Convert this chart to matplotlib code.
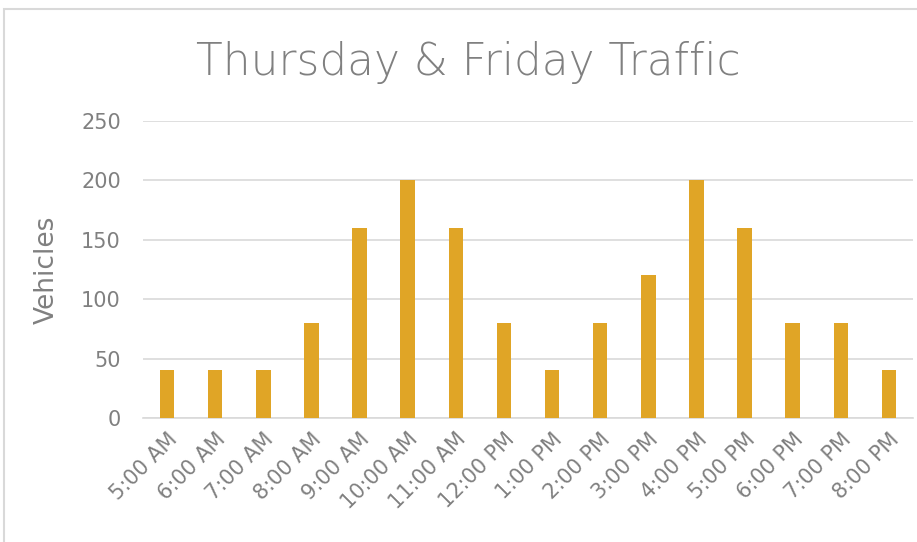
import matplotlib
matplotlib.use("Agg")
import matplotlib.pyplot as plt
import matplotlib.transforms as mtransforms
from matplotlib.patches import Rectangle

horas = ["5:00 AM", "6:00 AM", "7:00 AM", "8:00 AM", "9:00 AM", "10:00 AM",
         "11:00 AM", "12:00 PM", "1:00 PM", "2:00 PM", "3:00 PM", "4:00 PM",
         "5:00 PM", "6:00 PM", "7:00 PM", "8:00 PM"]
veiculos = [40, 40, 40, 80, 160, 200, 160, 80, 40, 80, 120, 200, 160, 80, 80, 40]
yticks = [0, 50, 100, 150, 200, 250]

COR_BARRA = "#E0A526"
CINZA = "#808080"
GRADE = "#D9D9D9"

plt.rcParams["font.family"] = ["DejaVu Sans"]

W, H = 917, 542
fig = plt.figure(figsize=(W / 100, H / 100), dpi=100)

# moldura do grafico
fig.add_artist(Rectangle((4 / W, -0.02), 1.0, 1 - 9 / H + 0.02,
                         transform=fig.transFigure, fill=False,
                         edgecolor=GRADE, linewidth=1.5))

ax = fig.add_axes([143 / W, 1 - 418 / H, (913 - 143) / W, (418 - 121) / H])
x = list(range(len(horas)))
ax.bar(x, veiculos, width=0.3, color=COR_BARRA, zorder=3)

ax.set_xlim(-0.5, len(horas) - 0.5)
ax.set_ylim(0, 250)
ax.set_yticks(yticks)
ax.set_xticks(x)
ax.set_xticklabels(horas, rotation=45, ha="right", rotation_mode="anchor")
# desloca os rotulos um pouco para a direita, como no original
desloc = mtransforms.ScaledTranslation(10 / 100, 0, fig.dpi_scale_trans)
for lbl in ax.get_xticklabels():
    lbl.set_transform(lbl.get_transform() + desloc)

ax.grid(axis="y", color=GRADE, linewidth=1.2, zorder=0)
for s in ["top", "right", "left"]:
    ax.spines[s].set_visible(False)
ax.spines["bottom"].set_color(GRADE)
ax.spines["bottom"].set_linewidth(1.2)
ax.tick_params(axis="both", length=0, colors=CINZA, labelsize=15)
ax.tick_params(axis="y", pad=16)
ax.tick_params(axis="x", pad=8)
ax.set_ylabel("Vehicles", color=CINZA, fontsize=19)
ax.yaxis.set_label_coords(-0.108, 0.5)

fig.text(468 / W, 1 - 62 / H, "Thursday & Friday Traffic", color=CINZA,
         fontsize=31.5, fontweight="light", ha="center", va="center")

fig.savefig("out.png", dpi=100)
